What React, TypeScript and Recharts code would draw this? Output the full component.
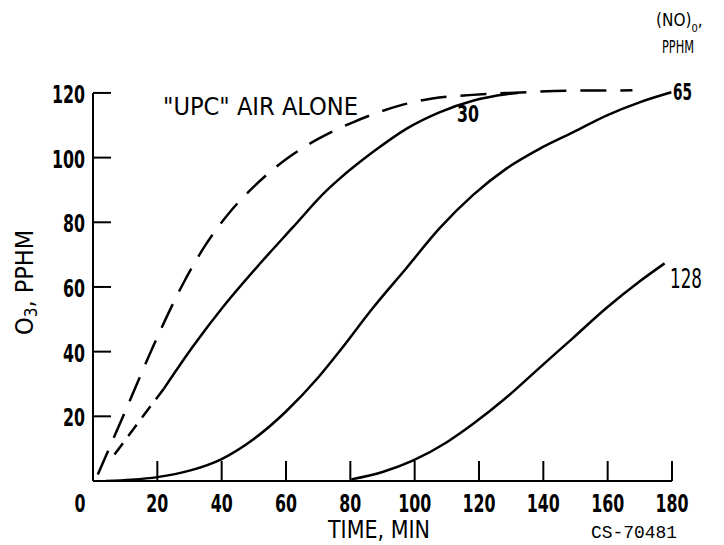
import React from "react";
import { LineChart, Line, XAxis, YAxis, ReferenceLine } from "recharts";

// ---- data (time in min, O3 in pphm) ----
const minuteTicks = [0, 20, 40, 60, 80, 100, 120, 140, 160, 180];
const ozoneTicks = [20, 40, 60, 80, 100, 120];

const upcAirTime = [1.5, 10, 20, 28, 35, 42, 50, 60, 70, 81, 95, 105.5, 118, 129.5, 149, 167.7];
const upcAirO3 = [2, 21.5, 44.5, 61, 73, 82.5, 91, 99.5, 105.8, 111, 116, 118.3, 119.4, 120, 120.7, 120.8];

const no30StartTime = [6.7, 15, 22];
const no30StartO3 = [8.2, 19.3, 28.5];
const no30Time = [22, 31, 40.4, 51.8, 62.1, 72.5, 76.7, 87, 97.4, 107.7, 118.1, 128.5, 132];
const no30O3 = [28.5, 41.5, 53.8, 67.1, 78.4, 89.7, 93.5, 101.7, 108.9, 114, 117.6, 119.6, 120];

const no65Time = [4, 12, 20, 30, 40, 50, 60, 70, 76.7, 87, 97.4, 107.7, 118.1, 128.5, 138.8, 149.2, 159.6, 169.9, 179.8];
const no65O3 = [0, 0.4, 1.2, 3.2, 6.8, 13, 21.5, 32, 40.2, 53.5, 65.8, 78.1, 88.4, 96.6, 102.7, 107.8, 113, 117.1, 120.2];

const no128Time = [80.3, 90, 99.4, 110, 118.1, 128.5, 138.8, 149.2, 159.6, 169.9, 177.7];
const no128O3 = [0.5, 2.8, 6.3, 12, 17.6, 25.8, 35, 44.2, 53.5, 61.7, 67.3];

const toSeries = (ts: number[], vs: number[]) => ts.map((t, i) => ({ t, v: vs[i] }));

const NARROW = '"Liberation Sans Narrow", "DejaVu Sans Condensed", "Arial Narrow", "DejaVu Sans", sans-serif';
const MONO = '"Liberation Mono", "DejaVu Sans Mono", monospace';

const XTick = (props: any) => {
  const { x, y, payload } = props;
  const v = payload.value;
  const s = String(v);
  return (
    <g>
      {v !== 0 && <line x1={x} y1={y} x2={x} y2={y - 20} stroke="#000" strokeWidth={2} />}
      <text
        x={v === 0 ? x - 13 : x}
        y={y + 31}
        textAnchor="middle"
        fontFamily={NARROW}
        fontWeight="bold"
        fontSize={25}
        fill="#000"
        textLength={s.length * 11}
        lengthAdjust="spacingAndGlyphs"
      >
        {s}
      </text>
    </g>
  );
};

const YTick = (props: any) => {
  const { x, y, payload } = props;
  const s = String(payload.value);
  return (
    <g>
      <line x1={x} y1={y} x2={x + 18} y2={y} stroke="#000" strokeWidth={2} />
      <text
        x={x - 8 - s.length * 11}
        y={y + 10}
        textAnchor="start"
        fontFamily={NARROW}
        fontWeight="bold"
        fontSize={25}
        fill="#000"
        textLength={s.length * 11}
        lengthAdjust="spacingAndGlyphs"
      >
        {s}
      </text>
    </g>
  );
};

export default function App() {
  return (
    <div style={{ position: "absolute", left: 0, top: 0, width: 724, height: 545, background: "#fff" }}>
      <LineChart width={724} height={545} margin={{ top: 80, right: 52, bottom: 0, left: 0 }}>
        <XAxis
          type="number"
          dataKey="t"
          domain={[0, 180]}
          ticks={minuteTicks}
          interval={0}
          allowDataOverflow
          height={64}
          tickSize={0}
          tickMargin={0}
          tickLine={false}
          axisLine={{ stroke: "#000", strokeWidth: 2 }}
          tick={<XTick />}
        />
        <YAxis
          type="number"
          dataKey="v"
          domain={[0, 124]}
          ticks={ozoneTicks}
          interval={0}
          allowDataOverflow
          width={93}
          tickSize={0}
          tickMargin={0}
          tickLine={false}
          axisLine={false}
          tick={<YTick />}
        />
        <ReferenceLine
          segment={[{ x: 0, y: 0 }, { x: 0, y: 120 }]}
          stroke="#000"
          strokeWidth={2}
          ifOverflow="visible"
        />
        <Line
          data={toSeries(upcAirTime, upcAirO3)}
          dataKey="v"
          type="monotone"
          stroke="#000"
          strokeWidth={2.5}
          strokeDasharray="26 14"
          dot={false}
          activeDot={false}
          isAnimationActive={false}
        />
        <Line
          data={toSeries(no30StartTime, no30StartO3)}
          dataKey="v"
          type="monotone"
          stroke="#000"
          strokeWidth={2.5}
          strokeDasharray="14 9"
          dot={false}
          activeDot={false}
          isAnimationActive={false}
        />
        <Line
          data={toSeries(no30Time, no30O3)}
          dataKey="v"
          type="monotone"
          stroke="#000"
          strokeWidth={2.5}
          dot={false}
          activeDot={false}
          isAnimationActive={false}
        />
        <Line
          data={toSeries(no65Time, no65O3)}
          dataKey="v"
          type="monotone"
          stroke="#000"
          strokeWidth={2.5}
          dot={false}
          activeDot={false}
          isAnimationActive={false}
        />
        <Line
          data={toSeries(no128Time, no128O3)}
          dataKey="v"
          type="monotone"
          stroke="#000"
          strokeWidth={2.5}
          dot={false}
          activeDot={false}
          isAnimationActive={false}
        />
      </LineChart>
      <svg
        width={724}
        height={545}
        style={{ position: "absolute", left: 0, top: 0, pointerEvents: "none" }}
      >
        <g fill="#000" fontFamily={NARROW}>
          <text x={163} y={115} fontSize={25} textLength={195} lengthAdjust="spacingAndGlyphs">
            "UPC" AIR ALONE
          </text>
          <text x={457} y={122} fontSize={23} fontWeight="bold" textLength={22} lengthAdjust="spacingAndGlyphs">
            30
          </text>
          <text x={673} y={100} fontSize={23} fontWeight="bold" textLength={19} lengthAdjust="spacingAndGlyphs">
            65
          </text>
          <text x={670} y={288} fontSize={27} textLength={32} lengthAdjust="spacingAndGlyphs">
            128
          </text>
          <text x={656} y={26} fontSize={17}>
            (NO)<tspan fontSize={11} dy={6}>0</tspan>
            <tspan dy={-6}>,</tspan>
          </text>
          <text x={662} y={53} fontSize={18} textLength={32} lengthAdjust="spacingAndGlyphs">
            PPHM
          </text>
          <text transform="translate(33, 335) rotate(-90)" fontSize={25}>
            O<tspan fontSize={17} dy={4}>3</tspan>
            <tspan dy={-4}>,  PPHM</tspan>
          </text>
          <text x={328} y={538} fontSize={24} textLength={102} lengthAdjust="spacingAndGlyphs">
            TIME, MIN
          </text>
          <text x={591} y={538} fontSize={18} fontFamily={MONO} textLength={86} lengthAdjust="spacingAndGlyphs">
            CS-70481
          </text>
        </g>
      </svg>
    </div>
  );
}
